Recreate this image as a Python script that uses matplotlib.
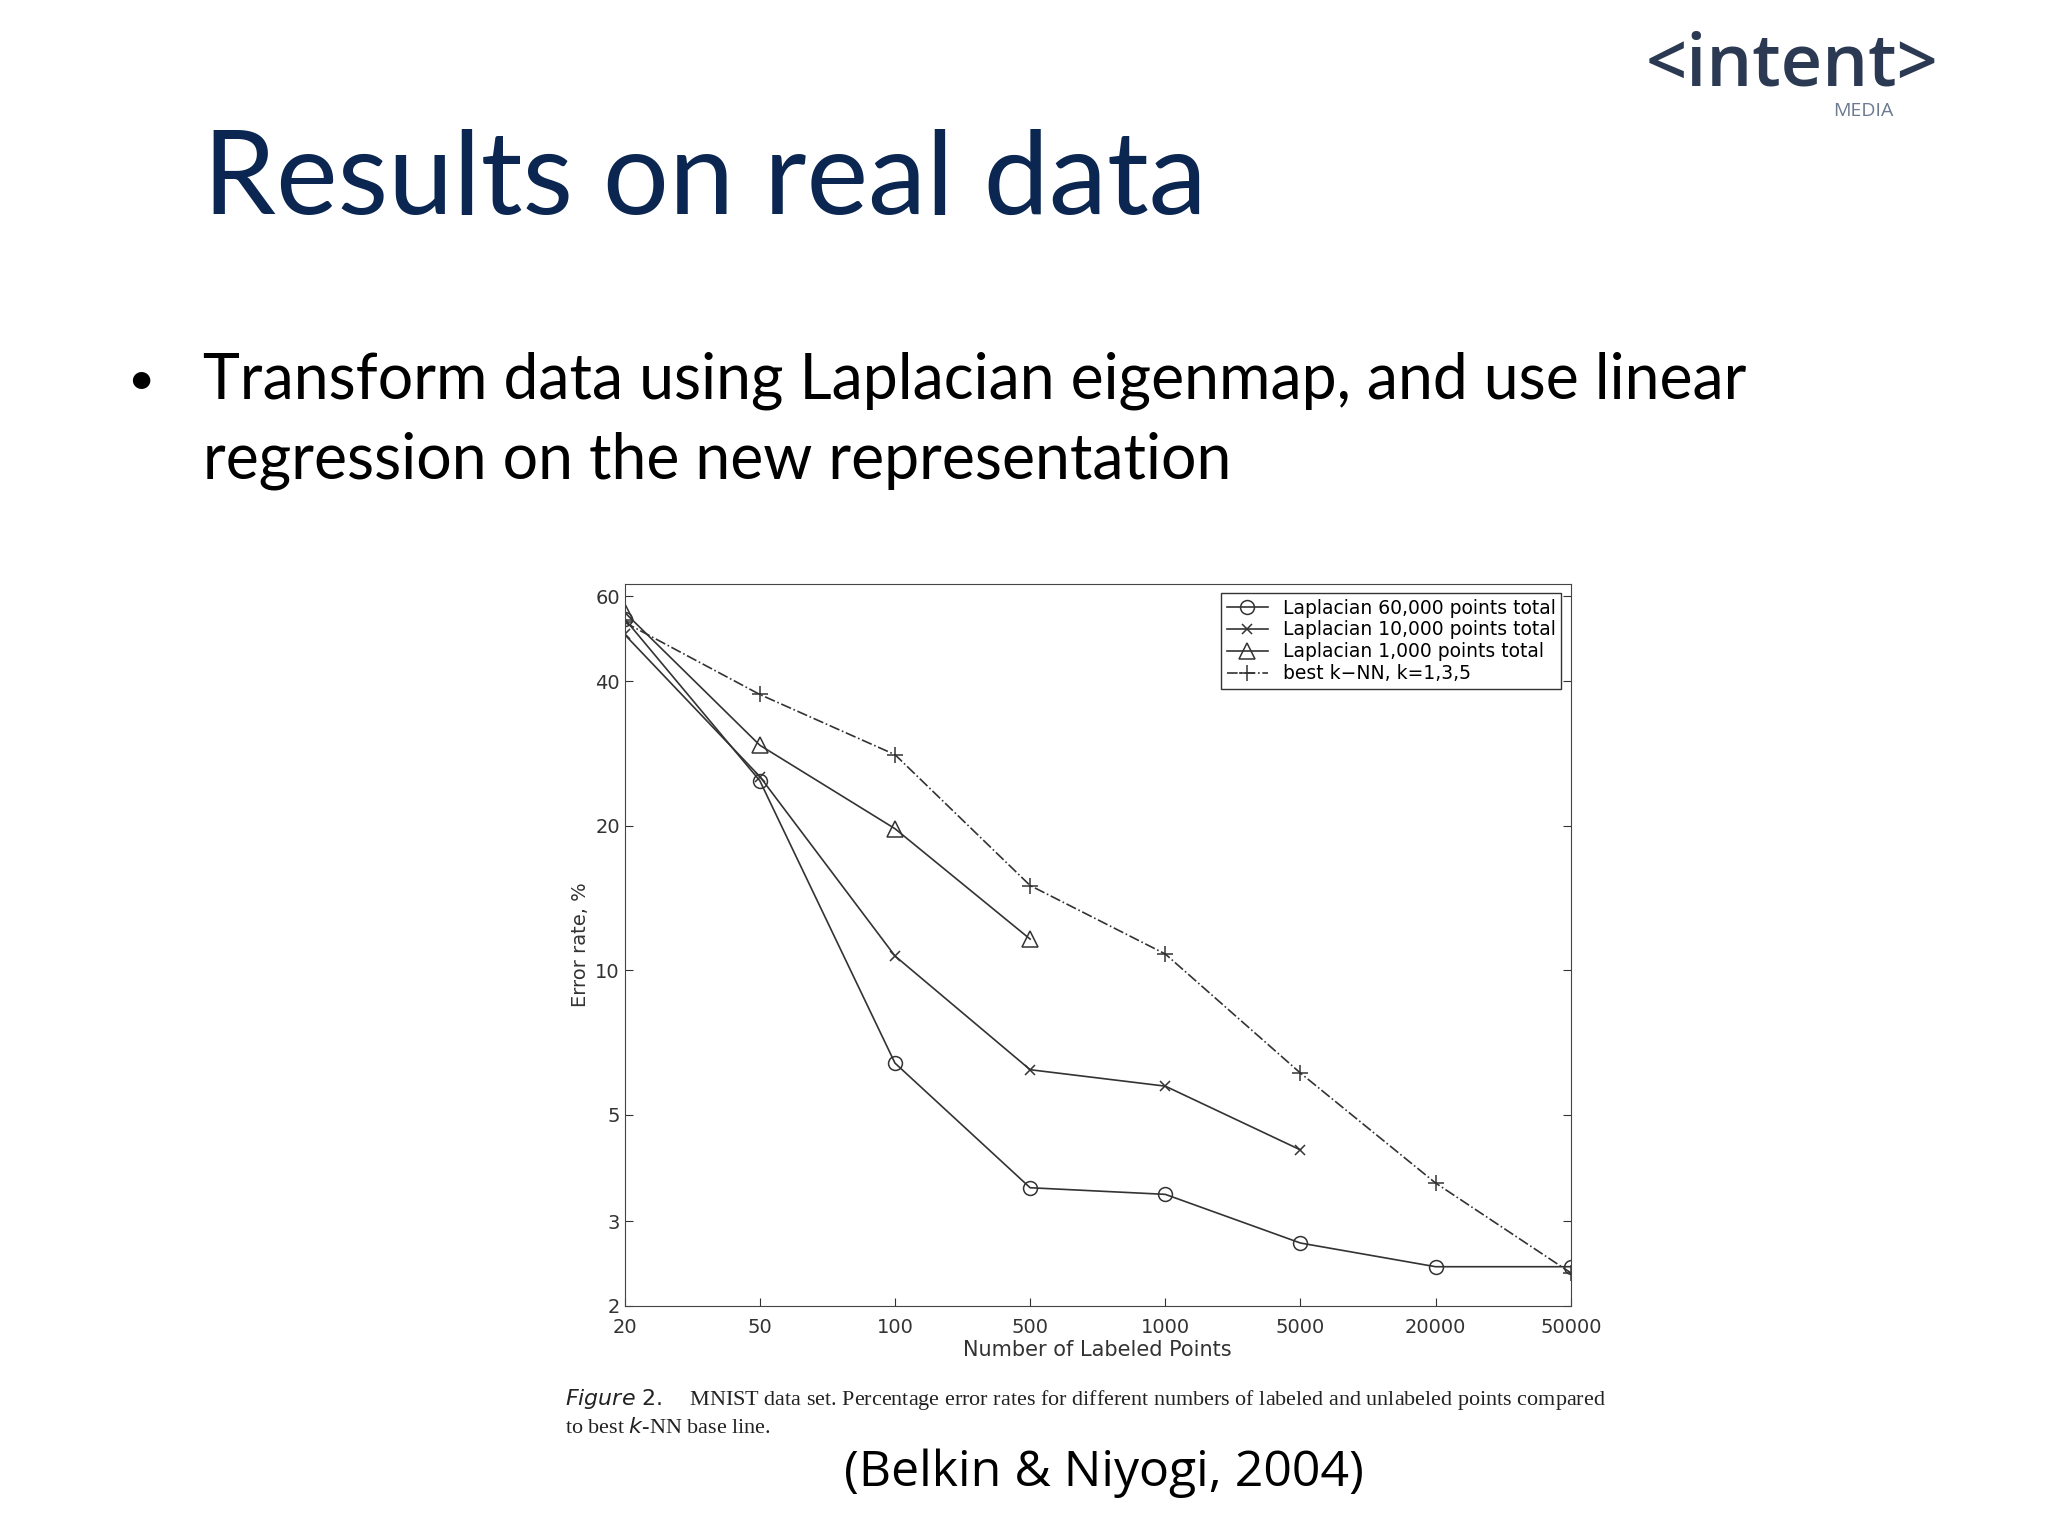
import matplotlib
matplotlib.use("Agg")
import matplotlib.pyplot as plt

x_labels = ["20", "50", "100", "500", "1000", "5000", "20000", "50000"]
lap60k = [53.9, 24.8, 6.4, 3.52, 3.41, 2.70, 2.41, 2.41]
lap10k = [50.0, 25.3, 10.7, 6.2, 5.73, 4.22]
lap1k = [55.6, 29.4, 19.7, 11.6]
knn = [53.0, 37.5, 28.1, 15.0, 10.8, 6.1, 3.6, 2.34]
y_ticks = [2, 3, 5, 10, 20, 40, 60]

fig = plt.figure(figsize=(20.48, 15.36), dpi=100)
fig.patch.set_facecolor("white")
navy = "#0b2650"

fig.text(0.099, 0.882, "Results on real data", fontsize=84, color=navy,
         family="Lato", va="center")
fig.text(0.062, 0.752, "•", fontsize=34, color="black", family="Lato", va="center")
fig.text(0.099, 0.752, "Transform data using Laplacian eigenmap, and use linear",
         fontsize=45, family="Lato", va="center")
fig.text(0.099, 0.700, "regression on the new representation",
         fontsize=45, family="Lato", va="center")
fig.text(0.875, 0.957, "<intent>", fontsize=52, color="#2b3a52", family="Open Sans",
         weight="semibold", ha="center", va="center")
fig.text(0.910, 0.928, "MEDIA", fontsize=14, color="#6b7a90", family="Open Sans",
         ha="center", va="center")

ax = fig.add_axes([0.305, 0.150, 0.462, 0.470])
xi = list(range(len(x_labels)))
lw = 1.2
ax.plot(xi[:len(lap60k)], lap60k, "-", color="#333333", lw=lw, marker="o",
        mfc="none", ms=10, mew=1.1, label="Laplacian 60,000 points total")
ax.plot(xi[:len(lap10k)], lap10k, "-", color="#333333", lw=lw, marker="x",
        ms=7, mew=1.1, label="Laplacian 10,000 points total")
ax.plot(xi[:len(lap1k)], lap1k, "-", color="#333333", lw=lw, marker="^",
        mfc="none", ms=11, mew=1.1, label="Laplacian 1,000 points total")
ax.plot(xi[:len(knn)], knn, "-.", color="#333333", lw=lw, marker="+",
        ms=11, mew=1.1, label="best k\u2212NN, k=1,3,5")
ax.set_yscale("log")
ax.set_ylim(2, 63.8)
ax.set_xlim(0, len(x_labels) - 1)
ax.set_yticks(y_ticks)
ax.set_yticklabels([str(v) for v in y_ticks])
ax.minorticks_off()
ax.set_xticks(xi)
ax.set_xticklabels(x_labels)
ax.tick_params(direction="in", labelsize=14, right=True, top=False, length=6,
               colors="#333333")
ax.tick_params(axis="x", pad=9)
ax.set_xlabel("Number of Labeled Points", fontsize=15, color="#333333", labelpad=2)
ax.set_ylabel("Error rate, %", fontsize=14, color="#333333", labelpad=4)
for s in ax.spines.values():
    s.set_color("#444444")
ax.legend(loc="upper right", fontsize=13.5, fancybox=False, edgecolor="#333333",
          framealpha=1, borderpad=0.3, labelspacing=0.15, handlelength=2.2,
          borderaxespad=0.5)

fig.text(0.276, 0.089, r"$\it{Figure\ 2.}$    MNIST data set. Percentage error rates for different numbers of labeled and unlabeled points compared",
         fontsize=15.9, family="Liberation Serif", color="#222222", va="center")
fig.text(0.276, 0.070, "to best $\\it{k}$-NN base line.", fontsize=15.9,
         family="Liberation Serif", color="#222222", va="center")
fig.text(0.539, 0.041, "(Belkin & Niyogi, 2004)", fontsize=36, family="Open Sans",
         ha="center", va="center")

fig.savefig("out.png", dpi=100)
